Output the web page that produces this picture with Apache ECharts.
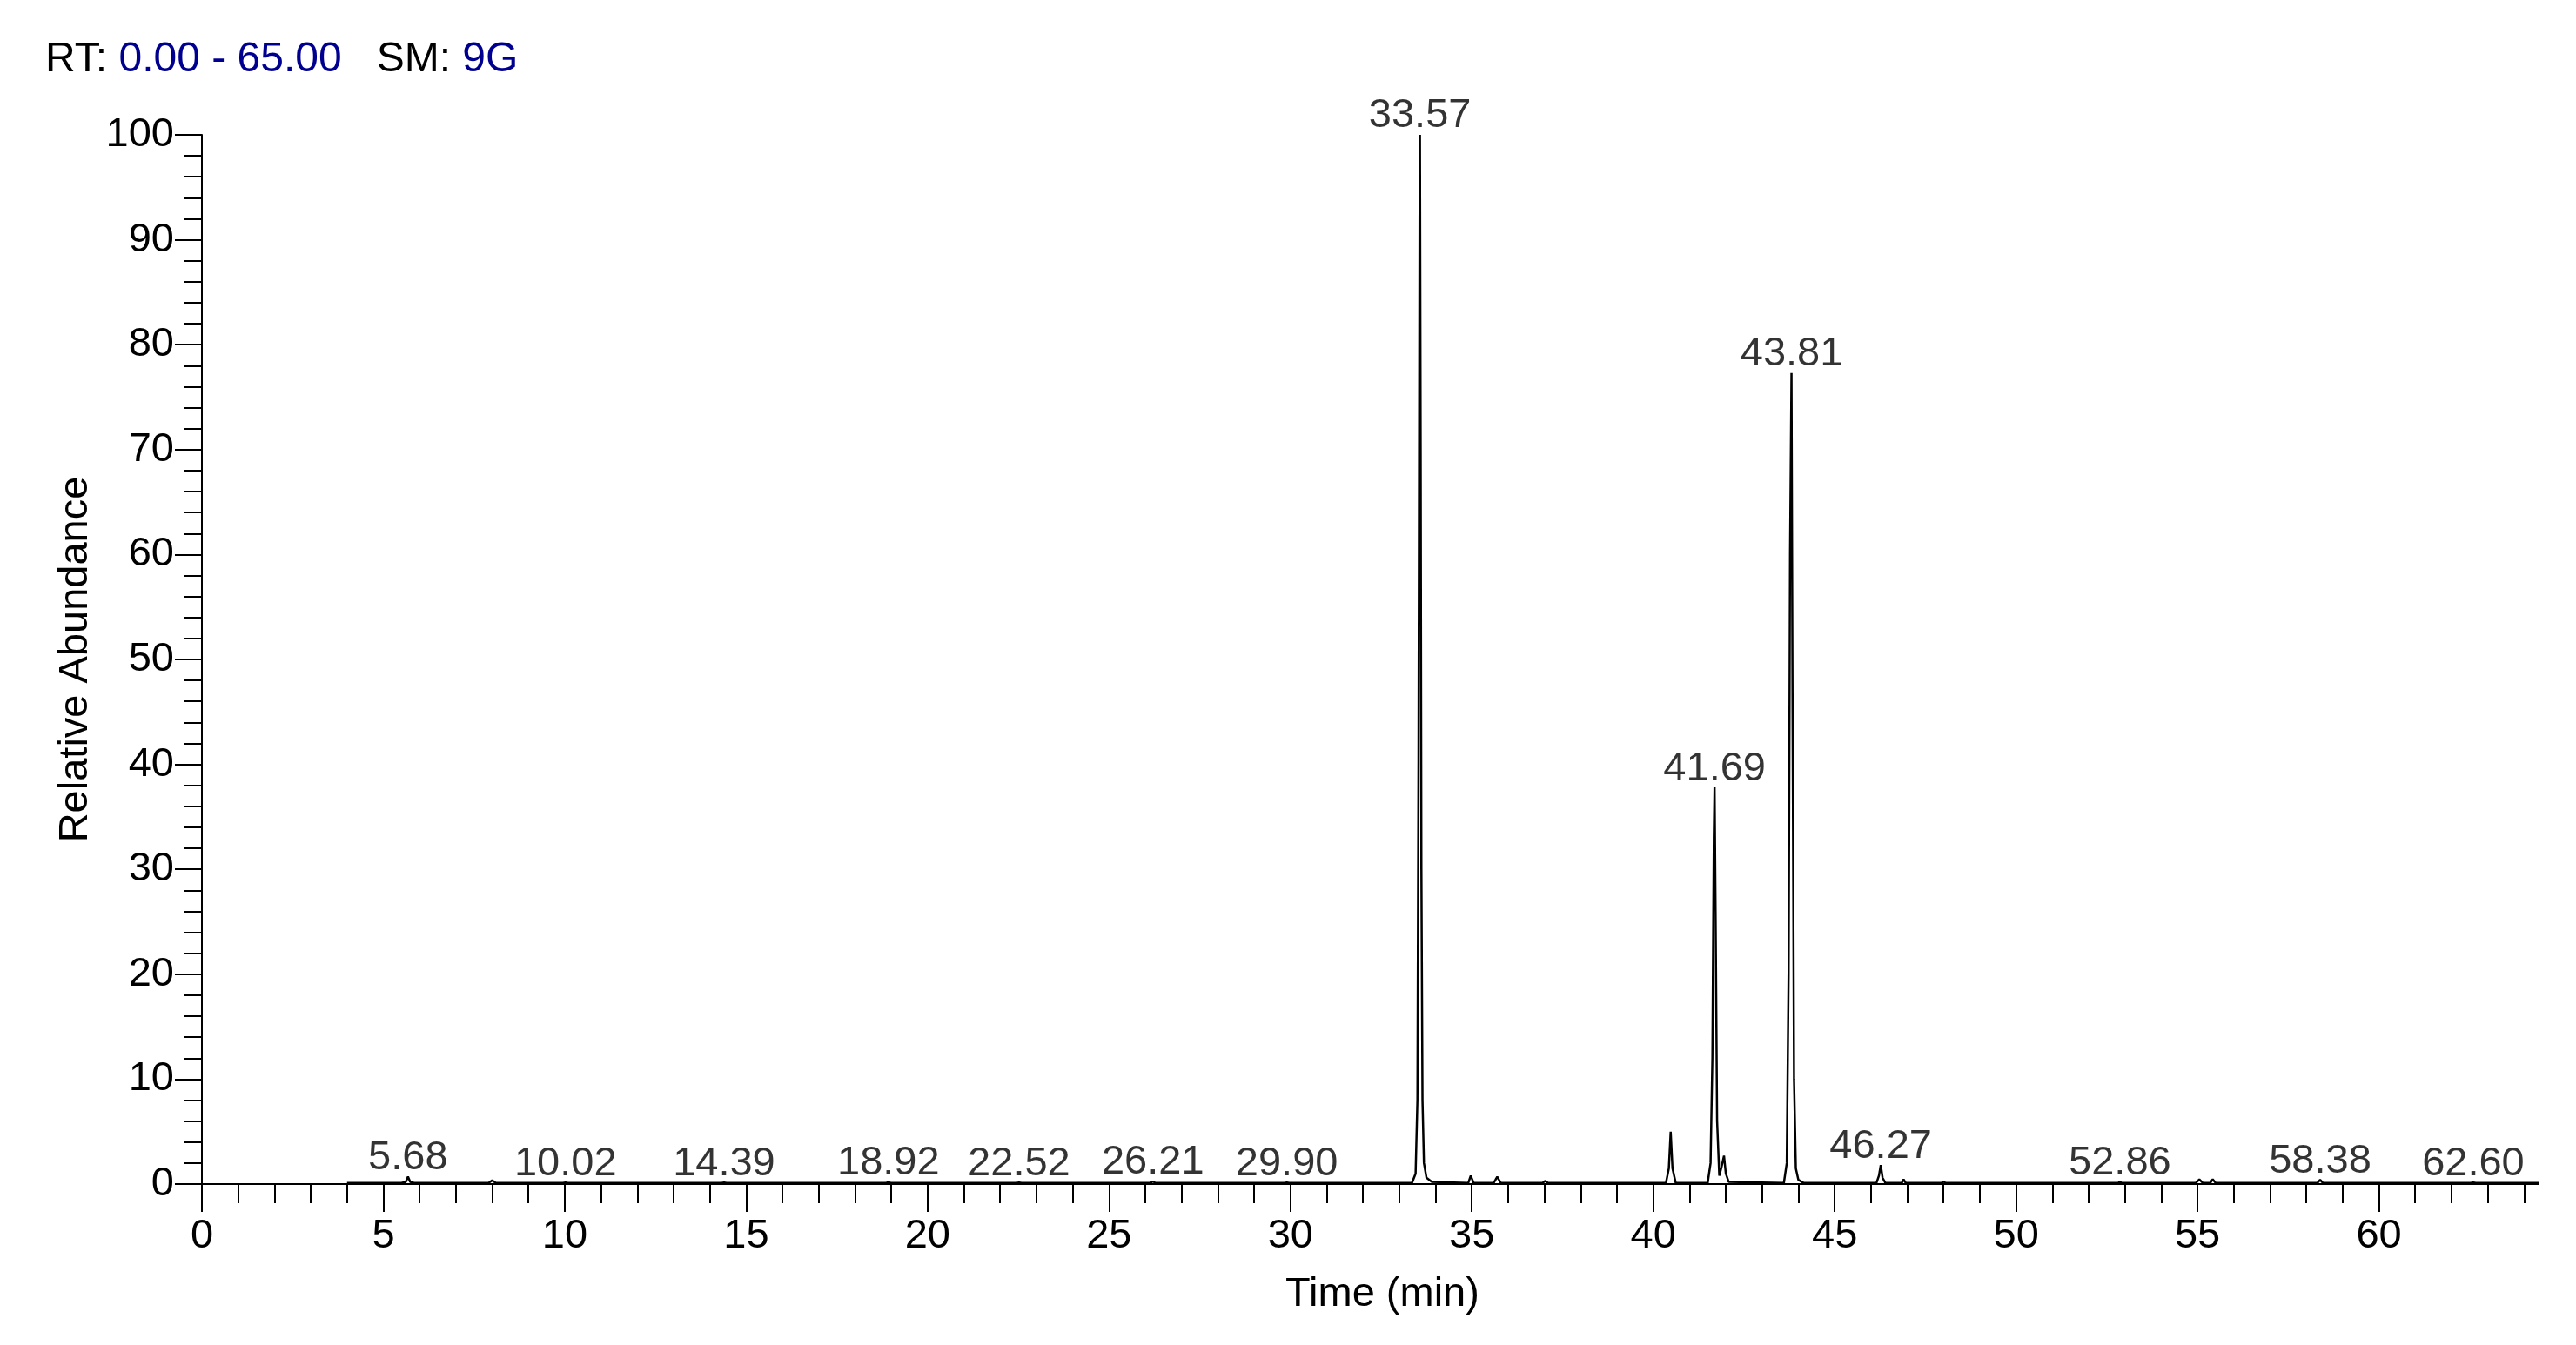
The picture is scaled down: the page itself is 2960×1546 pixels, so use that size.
<!DOCTYPE html>
<html>
<head>
<meta charset="utf-8">
<script src="https://cdn.jsdelivr.net/npm/echarts@6/dist/echarts.min.js"></script>
<style>
  html, body { margin: 0; padding: 0; background: #fff; }
  #main { width: 2960px; height: 1546px; }
</style>
</head>
<body>
<div id="main"></div>
<script>
// trace points (time in min, relative abundance %)
var traceTime = [
  4.00, 5.50, 5.62, 5.68, 5.74, 5.85,
  7.90, 8.00, 8.10,
  9.95, 10.02, 10.09, 14.32, 14.39, 14.46, 18.85, 18.92, 18.99,
  22.45, 22.52, 22.59, 26.14, 26.21, 26.28, 29.83, 29.90, 29.97,
  33.35, 33.45, 33.50, 33.53, 33.56, 33.57, 33.59, 33.61, 33.64, 33.68, 33.75, 33.90,
  34.90, 34.97, 35.05, 35.60, 35.70, 35.80, 36.95, 37.02, 37.10,
  40.35, 40.43, 40.48, 40.53, 40.62,
  41.50, 41.58, 41.63, 41.67, 41.69, 41.72, 41.76, 41.82, 41.88, 41.95, 42.00, 42.08,
  43.60, 43.68, 43.73, 43.77, 43.81, 43.84, 43.88, 43.93, 44.00, 44.15,
  46.15, 46.22, 46.27, 46.32, 46.40,
  46.85, 46.90, 46.96, 47.95, 48.00, 48.05,
  52.80, 52.86, 52.92, 54.95, 55.05, 55.15, 55.35, 55.42, 55.50,
  58.30, 58.38, 58.46, 62.53, 62.60, 62.67,
  64.40
];
var traceValue = [
  0.1, 0.1, 0.2, 0.7, 0.2, 0.1,
  0.1, 0.35, 0.1,
  0.1, 0.15, 0.1, 0.1, 0.15, 0.1, 0.1, 0.2, 0.1,
  0.1, 0.15, 0.1, 0.1, 0.25, 0.1, 0.1, 0.15, 0.1,
  0.1, 1, 8, 40, 92, 100, 70, 30, 8, 2, 0.6, 0.2,
  0.1, 0.8, 0.1, 0.1, 0.7, 0.1, 0.1, 0.3, 0.1,
  0.1, 1.5, 5.0, 1.5, 0.1,
  0.1, 2, 12, 33, 37.8, 25, 6, 0.8, 1.6, 2.7, 1, 0.2,
  0.1, 2, 20, 60, 77.3, 45, 10, 1.5, 0.4, 0.1,
  0.1, 0.8, 1.8, 0.6, 0.1,
  0.1, 0.45, 0.1, 0.1, 0.25, 0.1,
  0.1, 0.2, 0.1, 0.1, 0.45, 0.1, 0.1, 0.45, 0.1,
  0.1, 0.4, 0.1, 0.1, 0.15, 0.1,
  0.1
];
// labelled peaks
var peakTime = [5.68, 10.02, 14.39, 18.92, 22.52, 26.21, 29.90, 33.57, 41.69, 43.81, 46.27, 52.86, 58.38, 62.60];
var peakValue = [0.7, 0.15, 0.15, 0.2, 0.15, 0.25, 0.15, 100, 37.8, 77.3, 1.8, 0.2, 0.4, 0.15];
var xLabelValues = [0, 5, 10, 15, 20, 25, 30, 35, 40, 45, 50, 55, 60];
var xMinorValues = [];
for (var i = 0; i <= 64; i++) xMinorValues.push(i);

var font = "Arial, 'Liberation Sans', sans-serif";
var chart = echarts.init(document.getElementById('main'));

var line = traceTime.map(function (t, i) { return [t, traceValue[i]]; });
var peaks = peakTime.map(function (t, i) { return [t, peakValue[i]]; });

var axisLine = { lineStyle: { color: '#000', width: 2 } };

var option = {
  backgroundColor: '#fff',
  animation: false,
  title: {
    left: 47,
    top: 40,
    text: '{k|RT: }{v|0.00 - 65.00}{k|   SM: }{v|9G}',
    textStyle: {
      fontWeight: 'normal',
      rich: {
        k: { color: '#000', fontSize: 48, fontWeight: 'normal', fontFamily: font },
        v: { color: '#000090', fontSize: 48, fontWeight: 'normal', fontFamily: font }
      }
    }
  },
  grid: { left: 232, right: 43, top: 155, bottom: 185 },
  xAxis: [
    {
      type: 'value',
      min: 0,
      max: 64.4,
      name: 'Time (min)',
      nameLocation: 'middle',
      nameGap: 104,
      nameTextStyle: { color: '#000', fontSize: 47, fontFamily: font, padding: [0, 0, 0, 28] },
      axisLine: axisLine,
      axisTick: { show: true, length: 32, customValues: xLabelValues, lineStyle: { color: '#000', width: 2 } },
      axisLabel: { customValues: xLabelValues, color: '#000', fontSize: 47, fontFamily: font, margin: 37 },
      splitLine: { show: false }
    },
    {
      type: 'value',
      min: 0,
      max: 64.4,
      position: 'bottom',
      axisLine: { show: false },
      axisTick: { show: true, length: 22, customValues: xMinorValues, lineStyle: { color: '#000', width: 2 } },
      axisLabel: { show: false },
      splitLine: { show: false }
    }
  ],
  yAxis: {
    type: 'value',
    min: 0,
    max: 100,
    interval: 10,
    name: 'Relative Abundance',
    nameLocation: 'middle',
    nameGap: 112,
    nameTextStyle: { color: '#000', fontSize: 47, fontFamily: font },
    axisLine: { show: true, lineStyle: { color: '#000', width: 2 } },
    axisTick: { show: true, length: 31, lineStyle: { color: '#000', width: 2 } },
    minorTick: { show: true, splitNumber: 5, length: 21, lineStyle: { color: '#000', width: 2 } },
    axisLabel: { color: '#000', fontSize: 47, fontFamily: font, margin: 32 },
    splitLine: { show: false }
  },
  series: [
    {
      type: 'line',
      data: line,
      showSymbol: false,
      lineStyle: { color: '#000', width: 2.5 },
      z: 3
    },
    {
      type: 'scatter',
      data: peaks,
      symbolSize: 0,
      label: {
        show: true,
        position: 'top',
        distance: -2,
        color: '#000',
        fontSize: 47,
        fontFamily: font,
        formatter: function (p) { return p.value[0].toFixed(2); }
      },
      z: 4
    }
  ]
};
chart.setOption(option);
</script>
</body>
</html>
